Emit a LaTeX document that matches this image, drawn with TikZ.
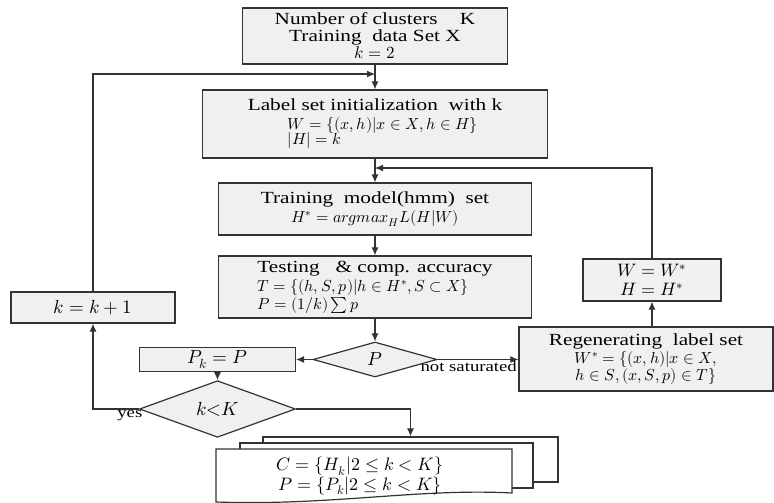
\documentclass[tikz,border=0pt]{standalone}
\usepackage{fontspec}
\usepackage{unicode-math}
\setmainfont{Liberation Serif}[FakeStretch=1.25]
\setmathfont{Latin Modern Math}
\usetikzlibrary{arrows.meta,positioning,shapes.geometric,calc}
\definecolor{boxgray}{HTML}{F0F0F0}
\definecolor{linegray}{HTML}{333333}
\newcommand{\msz}{\fontsize{16}{16}\selectfont}
\newcommand{\mbig}{\fontsize{19}{17}\selectfont}

\begin{document}
\begin{tikzpicture}[
  x=1pt, y=-1pt,
  font=\fontsize{17}{17}\selectfont,
  box/.style={draw=linegray, fill=boxgray, line width=1.2pt, inner sep=0pt, align=center},
  dec/.style={box, diamond},
  sheet/.style={draw=linegray, fill=white, line width=1.2pt, inner sep=0pt},
  arr/.style={-{Latex[length=8pt,width=7pt]}, line width=1.1pt, draw=linegray},
  lbl/.style={font=\fontsize{15}{15}\selectfont, inner sep=1pt}
]
\useasboundingbox (0,0) rectangle (774,503);

% main column
\node[box, minimum width=265pt, minimum height=56pt] (init) at (375,36) {Number of clusters\quad\ K\\Training\ \ data Set X\\$k = 2$};
\node[box, minimum width=345pt, minimum height=68pt, align=left, font=\msz] (lblset) at (375,124) {{\fontsize{17}{17}\selectfont Label set initialization\ \ with k}\\[3pt]\hspace*{40pt}$W = \{(x,h) | x \in X, h \in H\}$\\[-1pt]\hspace*{40pt}$|H| = k$};
\node[box, minimum width=313pt, minimum height=52pt] (train) at (375,209) {Training\ \ model(hmm)\ \ set\\[2pt]{\msz$H^* = argmax_H L(H|W)$}};
\node[box, minimum width=313pt, minimum height=62pt, align=left, font=\msz] (test) at (375,287) {{\fontsize{17}{17}\selectfont Testing\ \ \ \& comp. accuracy}\\[3pt]$T = \{(h,S,p) | h \in H^*, S \subset X\}$\\[1pt]$P = (1/k)\sum p$};
\node[dec, minimum width=124pt, minimum height=35pt, font=\mbig] (pdec) at (375,359.5) {$P$};

% left branch
\node[box, minimum width=156pt, minimum height=24pt, font=\mbig] (pk) at (217.5,359.5) {$P_k = P$};
\node[dec, minimum width=156pt, minimum height=34pt, font=\mbig] (kdec) at (217.5,409) {$k{<}K$};
\node[box, minimum width=164pt, minimum height=31pt, font=\mbig] (kinc) at (93,307.5) {$k = k + 1$};

% right branch
\node[box, minimum width=138pt, minimum height=42pt, font=\fontsize{18}{17}\selectfont] (upd) at (652,280) {$W = W^*$\\[2pt]$H = H^*$};
\node[box, minimum width=254pt, minimum height=64pt] (regen) at (646,359) {Regenerating\ \ label set\\[1pt]{\msz$W^* = \{(x,h)|x \in X,$}\\{\msz$h \in S, (x,S,p) \in T\}$}};

% result stack
\node[sheet, minimum width=295pt, minimum height=45pt] (sheetc) at (410.5,459.5) {};
\node[sheet, minimum width=293pt, minimum height=45pt] (sheetb) at (386.5,465.5) {};
\draw[sheet] (216,449) -- (512,449) -- (512,493) .. controls (420,488) and (330,506) .. (216,502) -- cycle;
\node[align=center, inner sep=0pt, font=\fontsize{18}{17}\selectfont] (result) at (360,476) {$C = \{H_k | 2 \le k < K\}$\\$P = \{P_k | 2 \le k < K\}$};

\coordinate (loopin) at (375,74);
\coordinate (fbin) at (375,168);

\draw[arr] (init) -- (lblset);
\draw[arr] (lblset) -- (train);
\draw[arr] (train) -- (test);
\draw[arr] (test) -- (pdec);
\draw[arr] (pdec.east) -- (pdec.east -| regen.west) node[lbl, pos=1, anchor=north east] {not saturated};
\draw[arr] (pdec.west) -- (pdec.west -| pk.east);
\draw[arr] (pk) -- (kdec);
\draw[arr] (kdec.west) node[lbl, anchor=north east, xshift=5pt] {yes} -| (kinc.south);
\draw[arr] (kinc.north) |- (loopin);
\draw[arr] (kdec.east) -| (sheetc.north);
\draw[arr] (regen.north -| upd.south) -- (upd.south);
\draw[arr] (upd.north) |- (fbin);
\end{tikzpicture}
\end{document}
